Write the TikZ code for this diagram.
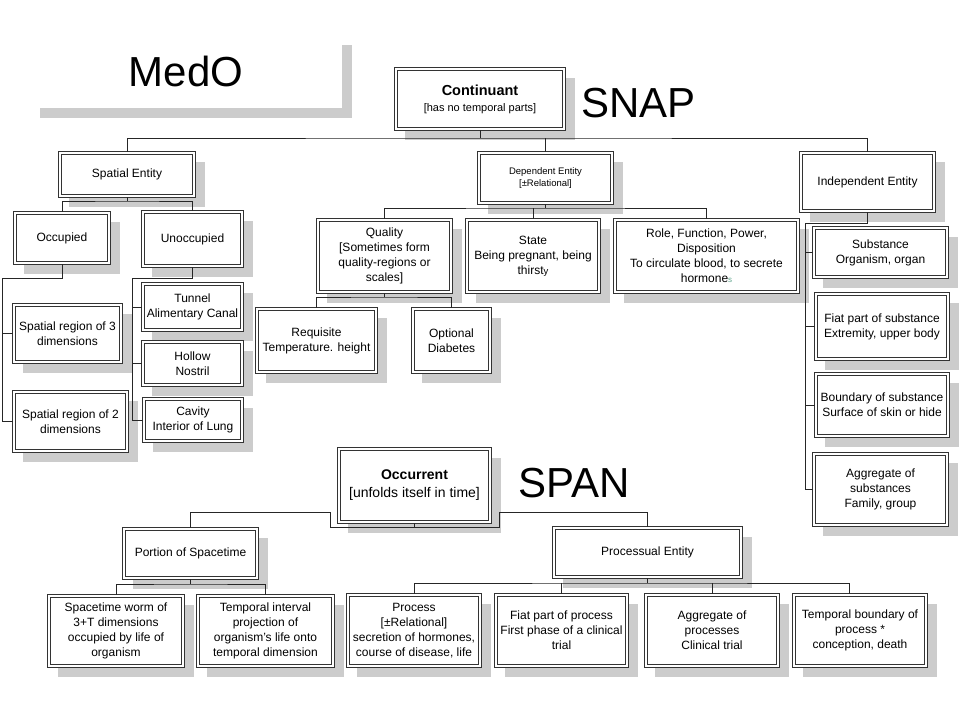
\documentclass[tikz,border=0pt]{standalone}
\usepackage{fontspec}
\setmainfont{Liberation Sans}
\usetikzlibrary{shadows}

\definecolor{hormgreen}{RGB}{95,165,140}

\tikzset{
  box/.style={fill=white, align=center, inner sep=0pt,
    drop shadow={shadow xshift=10pt, shadow yshift=-10pt, fill=black!20, opacity=1},
    font=\fontsize{12}{15}\selectfont},
  frame/.style={draw=black!80, line width=0.75pt},
  conn/.style={draw=black!85, line width=0.8pt},
  bigtext/.style={inner sep=0pt, anchor=base west, font=\fontsize{42}{42}\selectfont}
}

\begin{document}
\begin{tikzpicture}[x=1pt, y=-1pt]
  \fill[white] (0,0) rectangle (960,720);
  \useasboundingbox (0,0) rectangle (960,720);

  % titles
  \node[fill=white, minimum width=312pt, minimum height=73pt, inner sep=0pt,
    drop shadow={shadow xshift=10pt, shadow yshift=-10pt, fill=black!20, opacity=1},
    font=\fontsize{42}{42}\selectfont] (medo) at (186,71.5) {MedO};
  \node[bigtext] (snap) at (581,117) {SNAP};
  \node[bigtext] (span) at (518,497) {SPAN};

  % SNAP boxes
  \node[box, minimum width=170pt, minimum height=62pt] (cont) at (480,99)
    {{\bfseries\fontsize{14.5}{17}\selectfont Continuant}\\[1pt]{\fontsize{11}{13}\selectfont [has no temporal parts]}};
  \node[box, minimum width=136pt, minimum height=45pt] (spat) at (127,174.5) {Spatial Entity};
  \node[box, minimum width=135pt, minimum height=52pt, font=\fontsize{9.5}{11.5}\selectfont] (dep) at (545.5,178)
    {Dependent Entity\\{}[±Relational]};
  \node[box, minimum width=135pt, minimum height=60pt] (indep) at (867.5,182) {Independent Entity};

  \node[box, minimum width=96pt, minimum height=52pt] (occ) at (62,238) {Occupied};
  \node[box, minimum width=101pt, minimum height=56pt] (unocc) at (192.5,239) {Unoccupied};
  \node[box, minimum width=109pt, minimum height=59pt] (sr3) at (67.5,333.5) {Spatial region of 3\\dimensions};
  \node[box, minimum width=115pt, minimum height=61pt] (sr2) at (70.5,421.5) {Spatial region of 2\\dimensions};
  \node[box, minimum width=101pt, minimum height=48pt] (tunnel) at (192.5,307) {Tunnel\\Alimentary Canal};
  \node[box, minimum width=101pt, minimum height=45pt] (hollow) at (192.5,363.5) {Hollow\\Nostril};
  \node[box, minimum width=100pt, minimum height=44pt] (cavity) at (193,420) {Cavity\\Interior of Lung};

  \node[box, minimum width=135pt, minimum height=74pt] (qual) at (384.5,256)
    {Quality\\{}[Sometimes form\\quality-regions or\\scales]};
  \node[box, minimum width=134pt, minimum height=74pt] (state) at (533,256)
    {State\\Being pregnant, being\\thirst{\fontsize{9.5}{9.5}\selectfont y}};
  \node[box, minimum width=185pt, minimum height=74pt] (role) at (706.5,256)
    {Role, Function, Power,\\Disposition\\To circulate blood, to secrete\\hormone{\fontsize{8}{8}\selectfont\color{hormgreen}s}};
  \node[box, minimum width=121pt, minimum height=65pt] (req) at (316.5,340.5) {Requisite\\Temperature. height};
  \node[box, minimum width=79pt, minimum height=65pt] (opt) at (451.5,340.5) {Optional\\Diabetes};

  \node[box, minimum width=135pt, minimum height=51pt] (subst) at (880.5,252.5) {Substance\\Organism, organ};
  \node[box, minimum width=134pt, minimum height=67pt] (fiat) at (882,326.5) {Fiat part of substance\\Extremity, upper body};
  \node[box, minimum width=134pt, minimum height=64pt] (bound) at (882,405) {Boundary of substance\\Surface of skin or hide};
  \node[box, minimum width=135pt, minimum height=73pt] (aggr) at (880.5,489.5) {Aggregate of\\substances\\Family, group};

  % SPAN boxes
  \node[box, minimum width=153pt, minimum height=75pt, font=\fontsize{14}{18}\selectfont] (occur) at (414.5,485.5)
    {\textbf{Occurrent}\\{}[unfolds itself in time]};
  \node[box, minimum width=135pt, minimum height=51pt] (portion) at (190.5,553.5) {Portion of Spacetime};
  \node[box, minimum width=189pt, minimum height=51pt] (proc) at (647.5,552.5) {Processual Entity};
  \node[box, minimum width=136pt, minimum height=72pt] (worm) at (116,631)
    {Spacetime worm of\\3+T dimensions\\occupied by life of\\organism};
  \node[box, minimum width=137pt, minimum height=72pt] (interval) at (265.5,631)
    {Temporal interval\\projection of\\organism’s life onto\\temporal dimension};
  \node[box, minimum width=134pt, minimum height=73pt] (process) at (414,630.5)
    {Process\\{}[±Relational]\\secretion of hormones,\\course of disease, life};
  \node[box, minimum width=133pt, minimum height=73pt] (fiatproc) at (561.5,630.5)
    {Fiat part of process\\First phase of a clinical\\trial};
  \node[box, minimum width=134pt, minimum height=73pt] (aggproc) at (712,630.5)
    {Aggregate of\\processes\\Clinical trial};
  \node[box, minimum width=134pt, minimum height=73pt] (tbound) at (860,630.5)
    {Temporal boundary of\\process *\\conception, death};

  % double frames
  \foreach \n in {cont,spat,dep,indep,occ,unocc,sr3,sr2,tunnel,hollow,cavity,qual,state,role,req,opt,
      subst,fiat,bound,aggr,occur,portion,proc,worm,interval,process,fiatproc,aggproc,tbound} {
    \draw[frame] (\n.north west) rectangle (\n.south east);
    \draw[frame] ([shift={(2.6,2.6)}]\n.north west) rectangle ([shift={(-2.6,-2.6)}]\n.south east);
  }

  % bus points
  \coordinate (snapbus) at (480,138);
  \coordinate (spatbus) at (127,201);
  \coordinate (occbus) at (2,278);
  \coordinate (unoccbus) at (132,278);
  \coordinate (depbus) at (545.5,208);
  \coordinate (qualbus) at (384.5,297);
  \coordinate (indepbus) at (805,223);
  \coordinate (spanbus) at (414.5,527);
  \coordinate (dipleft) at (330,512);
  \coordinate (dipright) at (499,512);
  \coordinate (portbus) at (190.5,584);
  \coordinate (procbus) at (647.5,583);

  % connectors
  \draw[conn] (cont.south) -- (snapbus);
  \draw[conn] (spat.north) |- (snapbus) -| (indep.north);
  \draw[conn] (snapbus -| dep.north) -- (dep.north);

  \draw[conn] (spat.south) -- (spatbus);
  \draw[conn] (occ.north) |- (spatbus) -| (unocc.north);
  \draw[conn] (occ.south) |- (occbus) |- (sr3.west);
  \draw[conn] (occbus) |- (sr2.west);
  \draw[conn] (unocc.south) |- (unoccbus) |- (tunnel.west);
  \draw[conn] (unoccbus) |- (hollow.west);
  \draw[conn] (unoccbus) |- (cavity.west);

  \draw[conn] (dep.south) -- (depbus);
  \draw[conn] (qual.north) |- (depbus) -| (role.north);
  \draw[conn] (depbus -| state.north) -- (state.north);
  \draw[conn] (qual.south) -- (qualbus);
  \draw[conn] (req.north) |- (qualbus) -| (opt.north);

  \draw[conn] (indep.south) |- (indepbus) |- (subst.west);
  \draw[conn] (indepbus) |- (fiat.west);
  \draw[conn] (indepbus) |- (bound.west);
  \draw[conn] (indepbus) |- (aggr.west);

  \draw[conn] (occur.south) -- (spanbus);
  \draw[conn] (portion.north) |- (dipleft) -- (dipleft |- spanbus) -- (dipright |- spanbus)
    -- (dipright) -| (proc.north);

  \draw[conn] (portion.south) -- (portbus);
  \draw[conn] (worm.north) |- (portbus) -| (interval.north);
  \draw[conn] (proc.south) -- (procbus);
  \draw[conn] (process.north) |- (procbus) -| ([xshift=-11pt]tbound.north);
  \draw[conn] (procbus -| fiatproc.north) -- (fiatproc.north);
  \draw[conn] (procbus -| aggproc.north) -- (aggproc.north);
\end{tikzpicture}
\end{document}
